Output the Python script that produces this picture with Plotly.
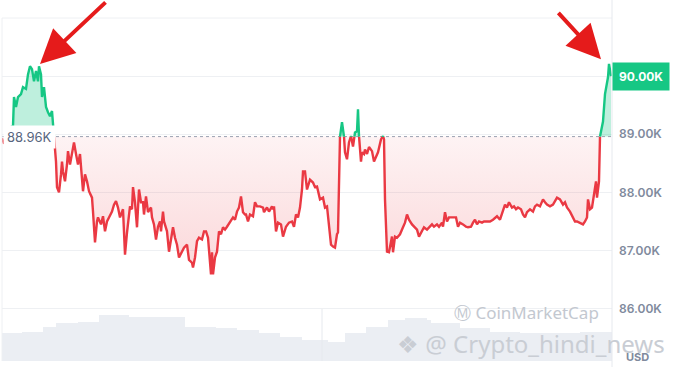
import plotly.graph_objects as go

# ---- data (time index along the 24h window, price in thousands USD) ----
t = [2, 4, 7, 10, 13, 14, 16, 18, 21, 23, 26, 28, 30, 32, 34, 36, 38, 39, 41, 42, 44, 46, 48, 50, 52, 53, 54,
     56, 57, 59, 61, 62, 63, 65, 67, 68, 70, 72, 74, 76, 78, 80, 82, 83, 85, 87, 89, 92, 93, 95, 97, 98, 101,
     103, 105, 107, 109, 112, 114, 116, 118, 120, 123, 125, 127, 130, 132, 133, 135, 137, 139, 141, 143, 144,
     146, 148, 151, 152, 154, 156, 158, 160, 161, 163, 164, 167, 169, 172, 173, 175, 177, 179, 182, 184, 187,
     189, 192, 193, 195, 197, 199, 202, 204, 206, 208, 211, 212, 213, 215, 217, 219, 221, 223, 225, 227, 230,
     233, 235, 237, 239, 241, 243, 245, 246, 248, 250, 253, 255, 257, 260, 263, 264, 267, 269, 272, 273, 274,
     276, 278, 281, 283, 286, 289, 292, 294, 296, 298, 300, 302, 303, 305, 307, 308, 310, 313, 315, 317, 320,
     323, 325, 327, 329, 331, 333, 335, 337, 338, 340, 342, 344, 345, 347, 349, 351, 353, 355, 357, 358, 359,
     361, 362, 364, 365, 367, 369, 372, 374, 376, 378, 381, 383, 384, 385, 387, 389, 392, 393, 395, 397, 400,
     403, 405, 407, 409, 412, 414, 417, 419, 422, 424, 427, 429, 432, 434, 437, 439, 442, 443, 445, 447, 449,
     452, 454, 456, 458, 460, 463, 466, 468, 471, 473, 475, 477, 479, 482, 484, 487, 490, 493, 497, 500, 503,
     505, 507, 509, 512, 514, 516, 518, 521, 523, 525, 527, 530, 533, 535, 537, 540, 543, 545, 547, 550, 553,
     555, 557, 560, 563, 565, 567, 570, 572, 573, 575, 577, 580, 583, 585, 587, 588, 590, 592, 594, 596, 597,
     599, 600, 602, 603, 605, 607, 608, 609, 611]
price = [88.93, 88.84, 88.92, 89.12, 89.14, 89.64, 89.47, 89.64, 89.69, 89.81, 89.78, 90.03, 90.17, 90.12,
         89.91, 90.09, 89.91, 90.17, 90.03, 89.64, 89.81, 89.47, 89.38, 89.31, 89.40, 89.22, 88.96,
         88.53, 88.09, 88.00, 88.31, 88.53, 88.36, 88.19, 88.48, 88.71, 88.48, 88.66, 88.86, 88.66, 88.48,
         88.66, 88.19, 88.02, 88.31, 88.19, 88.02, 87.91, 87.67, 87.14, 87.50, 87.57, 87.45, 87.59, 87.33,
         87.50, 87.57, 87.67, 87.79, 87.85, 87.74, 87.57, 87.71, 86.93, 87.31, 87.76, 87.71, 88.09, 87.83,
         87.40, 88.05, 87.83, 87.83, 87.62, 87.93, 87.66, 87.74, 87.57, 87.45, 87.19, 87.41, 87.50, 87.33,
         87.67, 87.50, 87.33, 86.98, 87.33, 87.40, 87.22, 87.10, 86.88, 86.97, 87.05, 87.10, 86.84, 86.79,
         86.71, 86.88, 87.16, 87.22, 87.19, 87.33, 87.33, 87.22, 86.59, 86.97, 86.59, 86.88, 86.98, 87.33,
         87.28, 87.40, 87.36, 87.41, 87.50, 87.57, 87.53, 87.67, 87.74, 87.93, 87.66, 87.62, 87.62, 87.50,
         87.62, 87.59, 87.83, 87.76, 87.76, 87.74, 87.66, 87.74, 87.67, 87.76, 87.71, 87.76, 87.33, 87.48,
         87.45, 87.24, 87.41, 87.48, 87.50, 87.41, 87.62, 87.57, 87.74, 88.05, 88.36, 88.36, 88.05, 88.10,
         88.22, 88.17, 88.09, 88.10, 87.88, 87.91, 87.74, 87.76, 87.45, 87.10, 87.07, 87.05, 87.28, 87.31,
         88.96, 89.21, 88.96, 88.69, 88.57, 88.86, 88.97, 88.79, 89.03, 89.05, 89.43, 88.97, 88.53, 88.69,
         88.66, 88.74, 88.66, 88.78, 88.71, 88.53, 88.60, 88.69, 88.91, 88.97, 88.91, 87.88, 86.98, 86.97,
         87.24, 86.97, 87.24, 87.22, 87.28, 87.40, 87.48, 87.62, 87.53, 87.45, 87.41, 87.36, 87.24, 87.33,
         87.40, 87.36, 87.40, 87.45, 87.41, 87.45, 87.41, 87.48, 87.41, 87.66, 87.50, 87.57, 87.57, 87.57,
         87.57, 87.41, 87.48, 87.45, 87.41, 87.40, 87.41, 87.48, 87.53, 87.45, 87.50, 87.48, 87.50, 87.50,
         87.50, 87.53, 87.59, 87.53, 87.67, 87.79, 87.74, 87.83, 87.74, 87.76, 87.71, 87.74, 87.71, 87.62,
         87.57, 87.66, 87.71, 87.67, 87.76, 87.79, 87.76, 87.88, 87.83, 87.79, 87.76, 87.79, 87.85, 87.91,
         87.88, 87.79, 87.83, 87.74, 87.67, 87.59, 87.57, 87.50, 87.50, 87.48, 87.45, 87.50, 87.57, 87.88,
         87.71, 87.74, 88.00, 88.19, 87.91, 88.19, 88.96, 89.12, 89.22, 89.69, 89.91, 89.98, 90.21, 90.00]
open_price = 88.96

vol_t = [0, 22, 43, 56, 78, 99, 129, 155, 172, 185, 216, 237, 259, 280, 302, 328, 345, 366, 388, 405, 427,
         431, 460, 490, 520, 550, 580, 612]
volume = [2.8, 2.9, 3.4, 3.8, 3.9, 4.6, 4.4, 4.4, 4.4, 3.4, 3.3, 3.1, 2.8, 2.4, 2.1, 1.9, 2.8, 3.4, 4.1,
          4.3, 4.1, 3.8, 3.3, 2.9, 2.8, 2.8, 2.9, 3.1]

y_ticks = [86, 87, 88, 89, 90]
y_tick_text = ["86.00K", "87.00K", "88.00K", "89.00K", "90.00K"]

RED = "#ea3943"
GREEN = "#16c784"

# ---- split series at crossings of the open price ----
xs, ys = [t[0]], [price[0]]
for i in range(1, len(t)):
    a, b = price[i - 1], price[i]
    if (a - open_price) * (b - open_price) < 0:
        f = (open_price - a) / (b - a)
        xs.append(t[i - 1] + f * (t[i] - t[i - 1]))
        ys.append(open_price)
    xs.append(t[i])
    ys.append(price[i])

below = [min(v, open_price) for v in ys]
above = [max(v, open_price) for v in ys]
red_line = [v if v <= open_price else None for v in ys]
green_line = [v if v >= open_price else None for v in ys]
base = [open_price] * len(xs)

fig = go.Figure()

# volume area
fig.add_trace(go.Scatter(x=vol_t, y=volume, yaxis="y2", mode="lines", line=dict(width=0, shape="hv"),
                         fill="tozeroy", fillcolor="#ebeef3", hoverinfo="skip", showlegend=False))

fig.add_trace(go.Scatter(x=xs, y=base, mode="lines", line=dict(width=0), showlegend=False, hoverinfo="skip"))
fig.add_trace(go.Scatter(x=xs, y=below, mode="lines", line=dict(width=0), fill="tonexty",
                         fillgradient=dict(type="vertical",
                                           colorscale=[[0, "rgba(234,57,67,0.20)"], [1, "rgba(234,57,67,0.06)"]]),
                         showlegend=False, hoverinfo="skip"))
fig.add_trace(go.Scatter(x=xs, y=base, mode="lines", line=dict(width=0), showlegend=False, hoverinfo="skip"))
fig.add_trace(go.Scatter(x=xs, y=above, mode="lines", line=dict(width=0), fill="tonexty",
                         fillcolor="rgba(22,199,132,0.28)", showlegend=False, hoverinfo="skip"))

# baseline dotted
fig.add_trace(go.Scatter(x=[2, 612], y=[open_price, open_price], mode="lines",
                         line=dict(color="#9aa1b0", width=1, dash="dot"), showlegend=False, hoverinfo="skip"))

fig.add_trace(go.Scatter(x=xs, y=red_line, mode="lines", line=dict(color=RED, width=2.4), connectgaps=False,
                         showlegend=False))
fig.add_trace(go.Scatter(x=xs, y=green_line, mode="lines", line=dict(color=GREEN, width=2.4), connectgaps=False,
                         showlegend=False))

fig.update_layout(
    width=673, height=367,
    margin=dict(l=2, r=61, t=18, b=6),
    paper_bgcolor="white", plot_bgcolor="white",
    xaxis=dict(range=[2, 612], showgrid=False, zeroline=False, showticklabels=False, fixedrange=True),
    yaxis=dict(range=[85.1, 91.0], side="right", tickvals=y_ticks, ticktext=y_tick_text,
               gridcolor="#eef0f3", gridwidth=1, zeroline=False, ticks="", ticklabelstandoff=6,
               tickfont=dict(family="Inter", size=12, color="#808a9d", weight=600)),
    yaxis2=dict(range=[0, 34.3], overlaying="y", visible=False),
    showlegend=False,
    font=dict(family="Inter"),
)

line_col = "#eef0f3"
fig.add_shape(type="line", xref="paper", yref="paper", x0=0, x1=1, y0=1, y1=1, line=dict(color=line_col, width=1))
fig.add_shape(type="line", xref="paper", yref="paper", x0=0, x1=0, y0=0, y1=1, line=dict(color=line_col, width=1))
fig.add_shape(type="line", xref="paper", yref="paper", x0=1, x1=1, y0=-0.03, y1=1.06, line=dict(color="#e6e9ee", width=1))
fig.add_shape(type="line", xref="x", yref="paper", x0=322, x1=322, y0=0, y1=0.152, line=dict(color="#e6e9ee", width=1))

# open price label
fig.add_annotation(x=3, y=open_price, xref="x", yref="y", xanchor="left", yanchor="middle", text="88.96K",
                   showarrow=False, bgcolor="white", borderpad=3,
                   font=dict(family="Inter", size=13, color="#58667e"))
# last price label
fig.add_annotation(x=1.0, y=90.0, xref="paper", yref="y", xanchor="left", yanchor="middle",
                   text="<b>90.00K</b>", showarrow=False, bgcolor=GREEN, borderpad=6,
                   font=dict(family="Inter", size=12, color="white"))
fig.add_annotation(x=1.0, y=0.012, xref="paper", yref="paper", xanchor="left", yanchor="middle", xshift=12,
                   text="<b>USD</b>", showarrow=False, font=dict(family="Inter", size=11, color="#808a9d"))

# watermarks
fig.add_annotation(x=526, y=86.0, xref="x", yref="y", text="Ⓜ CoinMarketCap", showarrow=False,
                   yshift=-4, font=dict(family="Noto Sans", size=17, color="#c3c8d0"))
fig.add_annotation(x=531, y=85.4, xref="x", yref="y", text="❖ @ Crypto_hindi_news", showarrow=False,
                   font=dict(family="Noto Sans", size=24, color="#c9cdd4"))

# arrows
fig.add_annotation(x=40, y=90.21, xref="x", yref="y", ax=67, ay=-63, showarrow=True, arrowhead=2,
                   arrowsize=1.7, arrowwidth=4, arrowcolor="#e51b1b", text="")
fig.add_annotation(x=601, y=90.29, xref="x", yref="y", ax=-44, ay=-48, showarrow=True, arrowhead=2,
                   arrowsize=1.7, arrowwidth=4, arrowcolor="#e51b1b", text="")

fig.write_html("out.html")
